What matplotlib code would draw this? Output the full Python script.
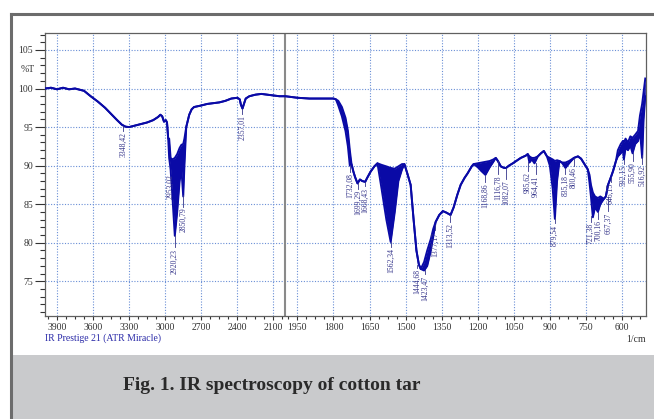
import numpy as np
import matplotlib
matplotlib.use("Agg")
import matplotlib.pyplot as plt
from matplotlib.lines import Line2D
from matplotlib.patches import Rectangle
from matplotlib.ticker import FixedLocator, NullFormatter
from matplotlib.transforms import offset_copy

# ---------------- data ----------------
# wavenumber (1/cm), upper envelope and lower envelope of transmittance (%T)
wn = [4000, 3950, 3900, 3850, 3800, 3750, 3700, 3675, 3620, 3560, 3500, 3450, 3400,
      3360, 3330, 3300, 3250, 3200, 3150, 3100, 3060, 3040, 3025, 3010, 2995, 2985,
      2975, 2967, 2955, 2940, 2920, 2900, 2880, 2865, 2850, 2840, 2825, 2800, 2780,
      2760, 2700, 2650, 2600, 2550, 2500, 2450, 2400, 2380, 2370, 2357, 2345, 2330,
      2300, 2250, 2200, 2150, 2100, 2050, 2000, 1950, 1900, 1850, 1800, 1790, 1780,
      1765, 1750, 1740, 1732, 1725, 1717, 1710, 1700, 1690, 1680, 1668, 1660, 1646,
      1630, 1617, 1600, 1580, 1562, 1545, 1530, 1515, 1505, 1492, 1479, 1467, 1455,
      1445, 1437, 1423, 1410, 1395, 1385, 1375, 1360, 1345, 1330, 1313, 1300, 1285,
      1271, 1255, 1242, 1225, 1217, 1200, 1185, 1168, 1150, 1135, 1125, 1116, 1104,
      1090, 1082, 1070, 1054, 1040, 1021, 1000, 992, 985, 975, 964, 950, 937, 925,
      912, 900, 888, 879, 870, 860, 850, 835, 820, 800, 783, 770, 758, 742, 735,
      729, 721, 712, 700, 690, 675, 667, 658, 646, 637, 625, 617, 605, 596, 592,
      585, 575, 565, 556, 545, 533, 525, 516, 510, 503]
t_hi = [100.0, 100.1, 99.9, 100.1, 99.9, 100.0, 99.8, 99.7, 99.0, 98.3, 97.5, 96.7, 95.9,
        95.3, 95.05, 95.0, 95.2, 95.4, 95.6, 95.9, 96.3, 96.6, 96.4, 95.7, 95.9, 95.6,
        93.5, 93.5, 91.0, 90.8, 91.0, 91.5, 92.3, 92.7, 92.8, 93.5, 95.0, 96.6, 97.3,
        97.6, 97.8, 98.0, 98.1, 98.2, 98.4, 98.7, 98.8, 98.6, 97.9, 97.4, 98.0, 98.7,
        99.0, 99.2, 99.3, 99.2, 99.1, 99.0, 99.0, 98.8, 98.7, 98.7, 98.7, 98.6, 98.4,
        97.6, 96.2, 94.5, 92.0, 90.2, 89.2, 88.5, 87.7, 88.2, 88.0, 87.9, 88.4, 89.2,
        89.9, 90.3, 90.1, 89.9, 89.7, 89.6, 89.9, 90.2, 90.2, 88.9, 87.5, 83.1, 79.0,
        77.2, 76.6, 77.5, 79.0, 80.5, 81.8, 82.7, 83.6, 84.1, 83.9, 83.6, 84.6, 86.2,
        87.5, 88.4, 89.0, 89.9, 90.2, 90.3, 90.4, 90.5, 90.6, 90.8, 91.0, 90.6, 89.9,
        89.7, 89.7, 90.0, 90.3, 90.6, 91.0, 91.3, 91.5, 91.2, 91.0, 91.0, 91.2, 91.6, 91.9,
        91.2, 91.0, 90.8, 90.6, 90.7, 90.6, 90.4, 90.4, 90.6, 91.0, 91.2, 90.9, 90.3, 89.5, 88.8,
        87.5, 86.5, 86.0, 85.8, 86.0, 85.7, 86.0, 87.5, 88.5, 89.3, 90.6, 92.0, 92.8, 93.2, 93.0,
        93.5, 93.0, 93.8, 93.6, 94.0, 94.5, 96.5, 98.0, 99.5, 101.3]
t_lo = [100.0, 100.1, 99.9, 100.1, 99.9, 100.0, 99.8, 99.7, 99.0, 98.3, 97.5, 96.7, 95.9,
        95.3, 95.05, 95.0, 95.2, 95.4, 95.6, 95.9, 96.3, 96.6, 96.4, 95.7, 95.9, 95.6,
        93.5, 91.0, 89.5, 86.0, 80.9, 84.0, 88.0, 89.5, 86.0, 90.0, 95.0, 96.6, 97.3,
        97.6, 97.8, 98.0, 98.1, 98.2, 98.4, 98.7, 98.8, 98.6, 97.9, 97.4, 98.0, 98.7,
        99.0, 99.2, 99.3, 99.2, 99.1, 99.0, 99.0, 98.8, 98.7, 98.7, 98.7, 98.6, 97.8,
        96.4, 94.5, 92.5, 90.0, 90.2, 89.2, 88.5, 87.7, 88.2, 88.0, 87.9, 88.4, 89.2,
        89.9, 90.3, 87.0, 83.0, 80.1, 84.0, 88.0, 89.5, 90.2, 88.9, 87.5, 83.1, 79.0,
        77.2, 76.6, 76.4, 77.0, 79.0, 80.8, 82.7, 83.6, 84.1, 83.9, 83.6, 84.6, 86.2,
        87.5, 88.4, 89.0, 89.9, 90.2, 89.8, 89.3, 88.8, 89.8, 90.5, 91.0, 90.6, 89.9,
        89.7, 89.7, 90.0, 90.3, 90.6, 91.0, 91.3, 91.5, 90.4, 90.8, 90.3, 91.2, 91.6, 91.9,
        91.2, 90.0, 87.0, 83.1, 88.0, 90.6, 90.4, 89.7, 90.3, 91.0, 91.2, 90.9, 90.3, 89.5, 87.8,
        86.0, 83.3, 84.6, 84.0, 85.0, 85.7, 86.0, 87.5, 88.5, 89.3, 90.6, 91.2, 91.6, 92.0, 90.8,
        92.3, 92.0, 92.6, 91.6, 92.8, 93.2, 94.5, 91.0, 96.0, 99.0]

# peak annotations: label text, wavenumber, y where the label text starts (%T)
peak_text = ["3348,42", "2953,02", "2920,23", "2850,79", "2357,01", "1732,08", "1699,29",
             "1668,43", "1562,34", "1444,68", "1423,47", "1377,17", "1313,52", "1168,86",
             "1116,78", "1082,07", "985,62", "964,41", "879,54", "835,18", "800,46",
             "721,38", "700,16", "667,37", "646,15", "592,15", "555,90", "516,92"]
peak_wn = [3348.42, 2953.02, 2920.23, 2850.79, 2357.01, 1732.08, 1699.29, 1668.43,
           1562.34, 1444.68, 1423.47, 1377.17, 1313.52, 1168.86, 1116.78, 1082.07,
           985.62, 964.41, 879.54, 835.18, 800.46, 721.38, 700.16, 667.37, 646.15,
           592.15, 555.90, 516.92]
peak_top = [94.5, 89.0, 79.4, 84.7, 96.7, 89.2, 87.0, 87.3, 79.5, 76.7, 75.9, 81.6,
            82.7, 87.9, 88.9, 88.3, 89.3, 88.9, 82.5, 88.9, 89.9, 82.7, 83.1, 84.1,
            87.9, 90.2, 90.6, 90.2]

x_major = [3900, 3600, 3300, 3000, 2700, 2400, 2100, 1950, 1800, 1650, 1500, 1350,
           1200, 1050, 900, 750, 600]
y_major = [75, 80, 85, 90, 95, 100, 105]

# ---------------- styling ----------------
LINE = "#0a0aa6"
LABEL = "#34348a"
GRID = "#6a8fd6"
SERIF = ["Liberation Serif", "DejaVu Serif"]
plt.rcParams["font.family"] = SERIF

fig = plt.figure(figsize=(6.54, 4.19), dpi=100)
fig.patch.set_facecolor("white")

# caption band and outer frame
fx0 = 11 / 654
fig.add_artist(Rectangle((fx0, 0), 1 - fx0, (419 - 355) / 419, transform=fig.transFigure,
                         facecolor="#c9cacc", edgecolor="none", zorder=0))
fig.add_artist(Line2D([fx0, 1], [1 - 14 / 419] * 2, transform=fig.transFigure,
                      color="#6c6c6c", lw=2.2))
fig.add_artist(Line2D([fx0, fx0], [0, 1 - 14 / 419], transform=fig.transFigure,
                      color="#6c6c6c", lw=2.2))

ax = fig.add_axes([45 / 654, 1 - 316 / 419, (646 - 45) / 654, (316 - 33) / 419])


def fwd(w):
    w = np.asarray(w, dtype=float)
    return np.where(w > 2000, 2000 + (w - 2000) / 2.0, w)


def inv(u):
    u = np.asarray(u, dtype=float)
    return np.where(u > 2000, 2000 + (u - 2000) * 2.0, u)


ax.set_xscale("function", functions=(fwd, inv))
ax.set_xlim(4000, 500)
ax.set_ylim(70.5, 107.2)

wn_a = np.array(wn, float)
hi_a = np.array(t_hi, float)
lo_a = np.array(t_lo, float)
ax.fill_between(wn_a, lo_a, hi_a, color=LINE, lw=0, zorder=3)
ax.plot(wn_a, hi_a, color=LINE, lw=1.4, zorder=4)
ax.plot(wn_a, lo_a, color=LINE, lw=1.4, zorder=4)

# grid
for xv in x_major:
    ax.axvline(xv, color=GRID, lw=0.8, ls=(0, (1, 1.5)), zorder=1)
for yv in y_major:
    ax.axhline(yv, color=GRID, lw=0.8, ls=(0, (1, 1.5)), zorder=1)
ax.axvline(2000, color="#8a8a8a", lw=1.5, zorder=2)

# peak labels (tight neighbours nudged apart by a pixel or two)
nudge = {"1444,68": -1.5, "1423,47": 1.5, "985,62": -1.5, "964,41": 1.5,
         "721,38": -2.0, "700,16": 0.5, "667,37": 2.5}
lo_rev_w = wn_a[::-1]
lo_rev_t = lo_a[::-1]
for txt, pw, top in zip(peak_text, peak_wn, peak_top):
    py = np.interp(pw, lo_rev_w, lo_rev_t)
    tr = offset_copy(ax.transData, fig=fig, x=nudge.get(txt, 0), y=0, units="dots")
    ax.plot([pw, pw], [py, top], color=LABEL, lw=0.6, zorder=5, transform=tr)
    ax.text(pw, top - 0.15, txt, rotation=90, ha="center", va="top", fontsize=5.5,
            color=LABEL, zorder=6, transform=tr)

# ticks
ax.xaxis.set_major_locator(FixedLocator(x_major))
ax.set_xticklabels([str(v) for v in x_major])
x_minor = [v for v in np.arange(3975, 2000, -75)] + [v for v in np.arange(1987.5, 500, -37.5)]
x_minor = [v for v in x_minor if v not in x_major]
ax.xaxis.set_minor_locator(FixedLocator(x_minor))
ax.xaxis.set_minor_formatter(NullFormatter())
ax.yaxis.set_major_locator(FixedLocator(y_major))
ax.yaxis.set_minor_locator(FixedLocator([v for v in range(71, 108) if v % 5]))
ax.yaxis.set_minor_formatter(NullFormatter())
ax.tick_params(axis="y", which="major", direction="out", length=7, width=0.8,
               labelsize=7, pad=1.5, color="#333333", labelcolor="#333333")
ax.tick_params(axis="y", which="minor", direction="out", length=3.5, width=0.8, color="#333333")
ax.tick_params(axis="x", which="major", direction="out", length=3, width=0.8,
               labelsize=7, pad=2, color="#333333", labelcolor="#333333")
ax.tick_params(axis="x", which="minor", direction="out", length=2.5, width=0.8, color="#333333")

for s in ax.spines.values():
    s.set_color("#606060")
    s.set_linewidth(0.9)

ax.text(-0.028, 102.5, "%T", transform=ax.get_yaxis_transform(), ha="center", va="center",
        fontsize=7, color="#333333")

fig.text(45 / 654, 1 - 338 / 419, "IR Prestige 21 (ATR Miracle)", ha="left", va="center",
         fontsize=7, color="#2a2aa8")
fig.text(646 / 654, 1 - 340 / 419, "1/cm", ha="right", va="center", fontsize=7, color="#333333")

fig.text(272 / 654, 1 - 385 / 419, "Fig. 1. IR spectroscopy of cotton tar", ha="center",
         va="center", fontsize=14, fontweight="bold", color="#2a2a2a", family=SERIF)

fig.savefig("out.png", dpi=100)
